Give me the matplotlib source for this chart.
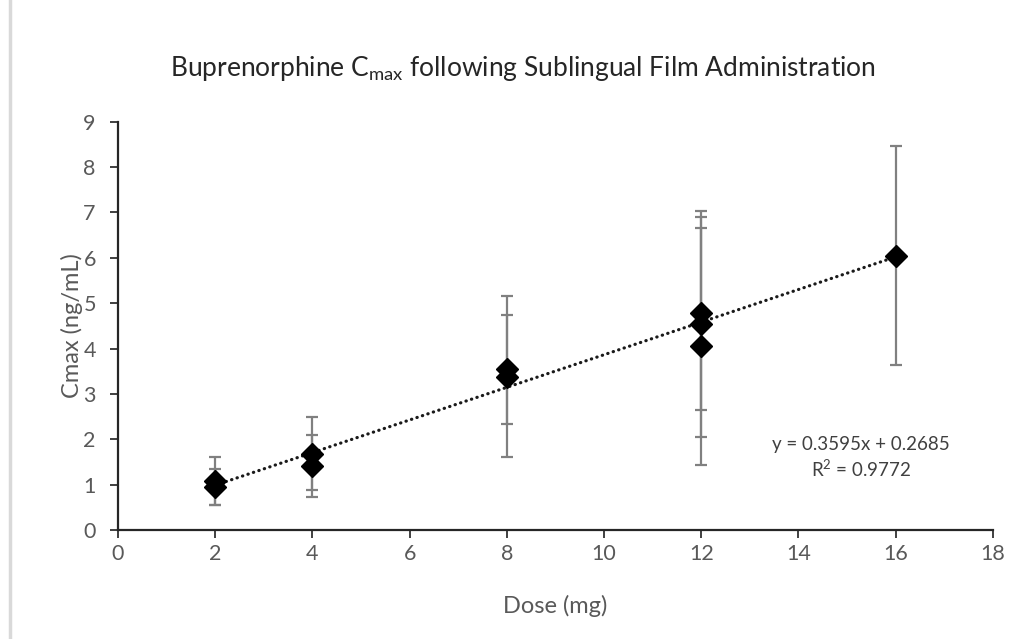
import numpy as np
import matplotlib
matplotlib.use("Agg")
import matplotlib.pyplot as plt
from matplotlib.patches import Rectangle

# Buprenorphine Cmax by sublingual film dose (mean and SD per study arm)
dose_mg = [2, 2, 4, 4, 8, 8, 12, 12, 12, 16]
cmax_ng_ml = [1.08, 0.95, 1.68, 1.41, 3.38, 3.54, 4.78, 4.54, 4.05, 6.05]
cmax_sd = [0.52, 0.39, 0.80, 0.69, 1.78, 1.21, 2.13, 2.49, 2.61, 2.41]

# Linear trend line coefficients
slope = 0.3595
intercept = 0.2685
r_squared = 0.9772

x_ticks = [0, 2, 4, 6, 8, 10, 12, 14, 16, 18]
y_ticks = [0, 1, 2, 3, 4, 5, 6, 7, 8, 9]

plt.rcParams['font.family'] = ['Lato', 'DejaVu Sans']
text_grey = '#595959'

fig = plt.figure(figsize=(10.28, 6.39), dpi=100)
fig.patch.set_facecolor('white')

# light outline of the chart area
fig.patches.append(Rectangle((10 / 1028, -0.2), 1.2, 1.2 + (1 - 12 / 639),
                             transform=fig.transFigure, fill=False,
                             edgecolor='#d9d9d9', linewidth=2.5))

ax = fig.add_axes([0.1148, 0.1706, 0.851, 0.6389])

ax.errorbar(dose_mg, cmax_ng_ml, yerr=cmax_sd, fmt='none', ecolor='#808080',
            elinewidth=1.6, capsize=4.5, capthick=1.6, zorder=2)

x_fit = np.array([min(dose_mg), max(dose_mg)])
ax.plot(x_fit, slope * x_fit + intercept, color='#1a1a1a', linestyle=(0, (0.1, 1.7)),
        linewidth=2.3, dash_capstyle='round', zorder=3)

ax.plot(dose_mg, cmax_ng_ml, linestyle='none', marker='D', markersize=11,
        color='black', zorder=4)

ax.set_xlim(0, 18)
ax.set_ylim(0, 9)
ax.set_xticks(x_ticks)
ax.set_yticks(y_ticks)
for side in ('top', 'right'):
    ax.spines[side].set_visible(False)
for side in ('left', 'bottom'):
    ax.spines[side].set_color('#262626')
    ax.spines[side].set_linewidth(1.6)
ax.tick_params(axis='both', direction='out', length=6, width=1.4, color='#404040',
               labelsize=15.5, labelcolor=text_grey)
ax.tick_params(axis='x', pad=4)
ax.tick_params(axis='y', pad=10)

ax.set_xlabel('Dose (mg)', fontsize=17, color=text_grey, labelpad=22)
ax.set_ylabel('Cmax (ng/mL)', fontsize=17, color=text_grey, labelpad=0)

fig.text(0.509, 0.893, 'Buprenorphine C$_{\\mathregular{max}}$ following Sublingual Film Administration',
         ha='center', va='center', fontsize=19, color='#262626')

ax.text(15.29, 1.59, f'y = {slope}x + {intercept}\nR$^{{\\mathregular{{2}}}}$ = {r_squared}',
        ha='center', va='center', fontsize=13.5, color='#404040', linespacing=1.3,
        multialignment='center')

fig.savefig('out.png', dpi=100, facecolor='white')
